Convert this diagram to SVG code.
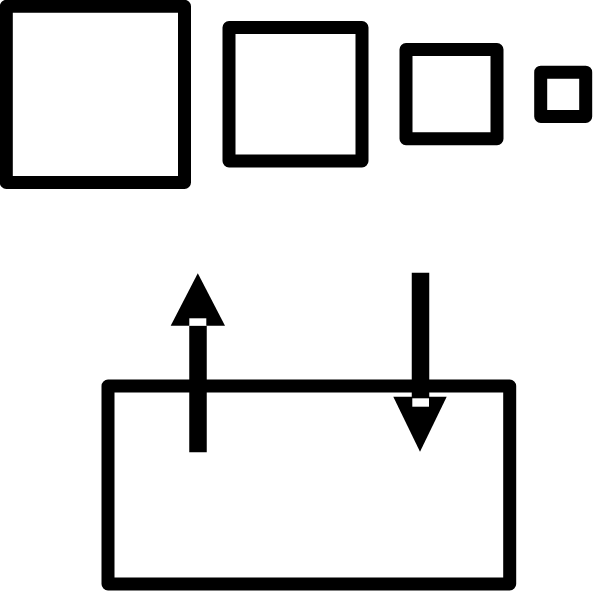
<svg xmlns="http://www.w3.org/2000/svg" width="600" height="599" viewBox="0 0 600 599">
<style>
.box{fill:#fff;stroke:#000;stroke-width:13;stroke-linejoin:round}
.shaft{stroke:#000;stroke-width:17.5;fill:none}
.head{fill:#000}
.gap{fill:#fff}
</style>
<rect width="600" height="599" fill="#fff"/>
<g id="square1"><rect class="box" x="6.3" y="6.3" width="178.2" height="176.2"/></g>
<g id="square2"><rect class="box" x="229" y="27.5" width="133" height="133.5"/></g>
<g id="square3"><rect class="box" x="406" y="49.5" width="91" height="89.2"/></g>
<g id="square4"><rect class="box" x="540.7" y="72.2" width="45" height="44.3"/></g>
<g id="panel"><rect class="box" x="108" y="386" width="401.7" height="198"/></g>
<g id="connectors">
<g id="arrow-up">
<line class="shaft" x1="198" y1="452.3" x2="198" y2="326"/>
<polygon class="head" points="197.8,273.3 170.7,325.8 225,325.8"/>
<rect class="gap" x="189.3" y="318.3" width="17" height="7.5"/>
</g>
<g id="arrow-down">
<line class="shaft" x1="420.5" y1="272.7" x2="420.5" y2="398"/>
<polygon class="head" points="393.3,396.8 446.7,396.8 420,451.7"/>
<rect class="gap" x="412.3" y="398.3" width="16.7" height="8.4"/>
</g>
</g>
</svg>
